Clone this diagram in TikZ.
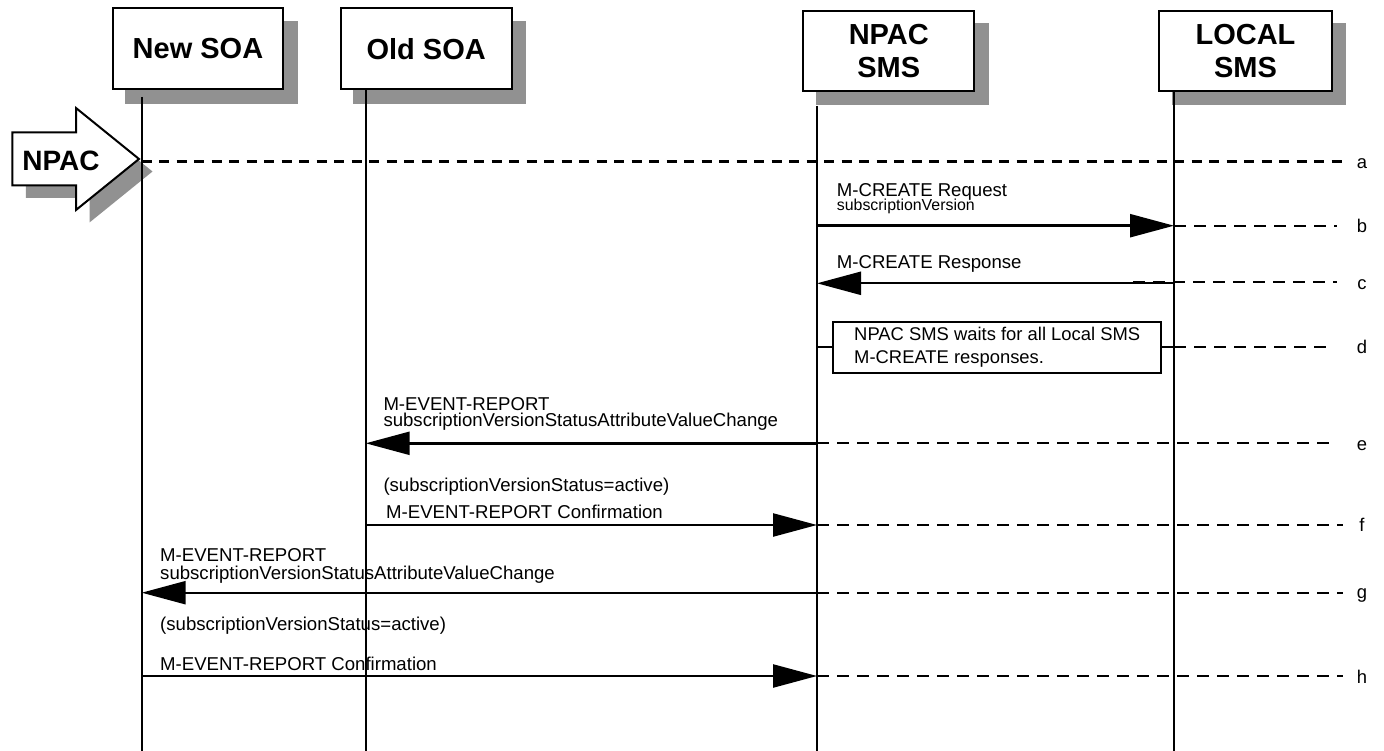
\documentclass[tikz,border=0pt]{standalone}
\usepackage{fontspec}
\setmainfont{Liberation Sans}
\usetikzlibrary{arrows.meta,backgrounds}
\definecolor{shadowgray}{RGB}{145,145,145}
\begin{document}
\begin{tikzpicture}[x=1pt,y=-1pt,
  every node/.style={inner sep=0pt},
  hdr/.style={draw=black,line width=2pt,fill=white,align=center,font=\fontsize{29}{32.5}\selectfont\bfseries},
  life/.style={line width=2pt},
  msg/.style={line width=2.4pt,-{Triangle[length=44pt,width=23pt]}},
  dl/.style={line width=2pt,dash pattern=on 12pt off 8pt},
  dla/.style={line width=3pt,dash pattern=on 10pt off 7.5pt},
  txt/.style={anchor=base west,font=\fontsize{18.6}{20}\selectfont},
  smalltxt/.style={anchor=base west,font=\fontsize{15.9}{17}\selectfont},
  lbl/.style={anchor=base,font=\fontsize{18.4}{20}\selectfont},
  notebox/.style={draw=black,line width=2pt,fill=white,align=left,font=\fontsize{18.4}{23}\selectfont}]

% header boxes
\node[hdr,minimum width=170.6pt,minimum height=80.7pt] (nsoa) at (198,48.7) {New SOA};
\node[hdr,minimum width=171pt,minimum height=80.7pt] (osoa) at (426.2,48.7) {Old SOA};
\node[hdr,minimum width=171pt,minimum height=80pt] (nsms) at (888.8,51) {NPAC\\SMS};
\node[hdr,minimum width=172.4pt,minimum height=80pt] (lsms) at (1245.5,51) {LOCAL\\SMS};

\begin{scope}[on background layer]
  \fill[white] (0,0) rectangle (1384,751);
  \foreach \b in {nsoa,osoa,nsms,lsms}
    \fill[shadowgray] ([shift={(13.5,13.5)}]\b.south west) rectangle ([shift={(13.5,13.5)}]\b.north east);
\end{scope}
\useasboundingbox (0,0) rectangle (1384,751);

% NPAC arrow
\fill[shadowgray,shift={(13.5,12.5)}] (12.3,132.5) -- (76,132.5) -- (76,108) -- (139,159) -- (76,210) -- (76,185.5) -- (12.3,185.5) -- cycle;
\draw[line width=2pt,fill=white] (12.3,132.5) -- (76,132.5) -- (76,108) -- (139,159) -- (76,210) -- (76,185.5) -- (12.3,185.5) -- cycle;
\node[font=\fontsize{28}{30}\selectfont\bfseries] (npac) at (61,161) {NPAC};

% message texts
\node[txt] (t1) at (836.7,196.7) {M-CREATE Request};
\node[smalltxt] (t2) at (836.7,210.5) {subscriptionVersion};
\node[txt] (t3) at (836.7,269) {M-CREATE Response};
\node[txt] (t4) at (383.3,410) {M-EVENT-REPORT};
\node[txt] (t5) at (383.3,426.7) {subscriptionVersionStatusAttributeValueChange};
\node[txt] (t6) at (383.3,491.6) {(subscriptionVersionStatus=active)};
\node[txt] (t7) at (386,518.3) {M-EVENT-REPORT Confirmation};
\node[txt] (t8) at (160,561.7) {M-EVENT-REPORT};
\node[txt] (t9) at (160,579.3) {subscriptionVersionStatusAttributeValueChange};
\node[txt] (t10) at (160,630) {(subscriptionVersionStatus=active)};
\node[txt] (t11) at (160,670) {M-EVENT-REPORT Confirmation};

% lifelines
\coordinate (nT) at (141.7,97);   \coordinate (nB) at (141.7,751);
\coordinate (oT) at (365.7,89);   \coordinate (oB) at (365.7,751);
\coordinate (sT) at (817,106);    \coordinate (sB) at (817,751);
\coordinate (lT) at (1174,91);    \coordinate (lB) at (1174,751);
\draw[life] (nT) -- (nB);
\draw[life] (oT) -- (oB);
\draw[life] (sT) -- (sB);
\draw[life] (lT) -- (lB);

% a
\coordinate (a1) at (141.7,161.5); \coordinate (a2) at (1344,161.5);
\draw[dla] (a1) -- (a2);
\node[lbl] (la) at (1362,168.3) {a};

% b
\coordinate (b1) at (817,225.7); \coordinate (b2) at (1174,225.7); \coordinate (b3) at (1337,225.7);
\draw[msg] (b1) -- (b2);
\draw[dl] (b2) -- (b3);
\node[lbl] (lb) at (1362,232.5) {b};

% c
\coordinate (c1) at (1174,283.3); \coordinate (c2) at (817,283.3); \coordinate (c0) at (1133,282.3); \coordinate (c3) at (1337,282.3);
\draw[dl] (c0) -- (c3);
\draw[msg] (c1) -- (c2);
\node[lbl] (lc) at (1362,290) {c};

% d
\coordinate (d1) at (817,346.7); \coordinate (d2) at (1174,346.7); \coordinate (d3) at (1332,346.7);
\draw[life] (d1) -- (d2);
\draw[dl] (d2) -- (d3);
\node[notebox,minimum width=327.7pt,minimum height=51.6pt] (dbox) at (997.2,347.5) {NPAC SMS waits for all Local SMS\\M-CREATE responses.};
\node[lbl] (ld) at (1362,353.5) {d};

% e
\coordinate (e1) at (817,443.3); \coordinate (e2) at (365.7,443.3); \coordinate (e3) at (1335,443.3);
\draw[msg] (e1) -- (e2);
\draw[dl] (e1) -- (e3);
\node[lbl] (le) at (1362,450) {e};

% f
\coordinate (f1) at (365.7,525); \coordinate (f2) at (817,525); \coordinate (f3) at (1343,525);
\draw[msg] (f1) -- (f2);
\draw[dl] (f2) -- (f3);
\node[lbl] (lf) at (1362,531.7) {f};

% g
\coordinate (g1) at (817,592.7); \coordinate (g2) at (141.7,592.7); \coordinate (g3) at (1343,592.7);
\draw[msg] (g1) -- (g2);
\draw[dl] (g1) -- (g3);
\node[lbl] (lg) at (1362,598.5) {g};

% h
\coordinate (h1) at (141.7,676); \coordinate (h2) at (817,676); \coordinate (h3) at (1343,676);
\draw[msg] (h1) -- (h2);
\draw[dl] (h2) -- (h3);
\node[lbl] (lh) at (1362,683) {h};
\end{tikzpicture}
\end{document}
